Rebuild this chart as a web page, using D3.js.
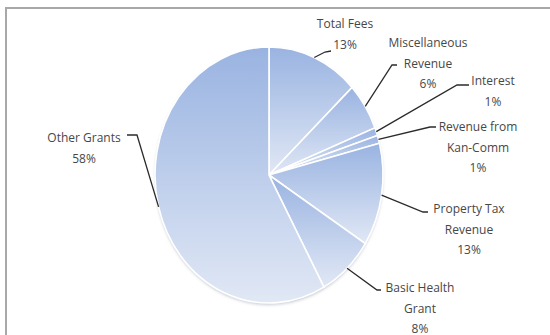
<!DOCTYPE html>
<html>
<head>
<meta charset="utf-8">
<script src="https://cdn.jsdelivr.net/npm/d3@7"></script>
<style>
  body { margin: 0; background: #fff; }
  .label { font-family: "Open Sans", sans-serif; font-size: 12px; fill: #474747; }
  .leader { fill: none; stroke: #2b2b2b; stroke-width: 1.3; }
</style>
</head>
<body>
<div id="chart"></div>
<script>
// Revenue pie

var categories = ["Total Fees", "Miscellaneous\nRevenue", "Interest", "Revenue from\nKan-Comm",
                  "Property Tax\nRevenue", "Basic Health\nGrant", "Other Grants"];
var shares = [13, 6, 1, 1, 13, 8, 58];

// label layout: text centre x, first line y, elbow point, end point of leader
var labelLayout = [
    { x: 345, y: 24, elbow: [325, 52], end: [331, 51] },
    { x: 428, y: 43, elbow: [392, 65], end: [397, 65] },
    { x: 493, y: 81, elbow: [457, 85], end: [469, 85] },
    { x: 478, y: 127, elbow: [430, 127], end: [436, 127] },
    { x: 469, y: 209, elbow: [423, 212], end: [428, 212] },
    { x: 420, y: 288, elbow: [377, 290], end: [381, 290] },
    { x: 84, y: 138, elbow: [137, 135], end: [127, 135] }
];

var width = 550,
    height = 335,
    cx = 269, cy = 175,
    rx = 114, ry = 128,
    lineH = 20.5;

var data = categories.map(function (c, i) { return { label: c, value: shares[i] }; });

var svg = d3.select('#chart').append("svg")
    .attr("width", width)
    .attr("height", height);

var defs = svg.append("defs");
var grad = defs.append("linearGradient")
    .attr("id", "sliceFill")
    .attr("x1", 0).attr("y1", 0).attr("x2", 0).attr("y2", 1);
grad.append("stop").attr("offset", "0%").attr("stop-color", "#99b3e1");
grad.append("stop").attr("offset", "100%").attr("stop-color", "#e1e8f5");

var shadow = defs.append("filter").attr("id", "shadow")
    .attr("x", "-10%").attr("y", "-10%").attr("width", "120%").attr("height", "120%");
shadow.append("feGaussianBlur").attr("stdDeviation", 1.5);

// chart area border
svg.append("rect")
    .attr("x", 6).attr("y", 8)
    .attr("width", 600).attr("height", 400)
    .attr("fill", "none")
    .attr("stroke", "#a8a8a8")
    .attr("stroke-width", 2);

var pie = d3.pie()
    .sort(null)
    .value(function (d) { return d.value; });

var arcs = pie(data);

var arc = d3.arc()
    .outerRadius(100)
    .innerRadius(0);

// soft rim under the pie
svg.append("ellipse")
    .attr("cx", cx).attr("cy", cy + 2)
    .attr("rx", rx).attr("ry", ry)
    .attr("fill", "#c9ccd2")
    .attr("filter", "url(#shadow)");

var g = svg.append("g")
    .attr("transform", "translate(" + cx + "," + cy + ") scale(" + rx / 100 + "," + ry / 100 + ")");

g.selectAll(".slice")
    .data(arcs)
    .enter().append("path")
    .attr("class", "slice")
    .attr("d", arc)
    .attr("fill", "url(#sliceFill)")
    .attr("stroke", "#ffffff")
    .attr("stroke-width", 1.6)
    .attr("vector-effect", "non-scaling-stroke");

function edgePoint(d) {
    var a = (d.startAngle + d.endAngle) / 2;
    return [cx + rx * Math.sin(a), cy - ry * Math.cos(a)];
}

svg.selectAll(".leader")
    .data(arcs)
    .enter().append("polyline")
    .attr("class", "leader")
    .attr("points", function (d, i) {
        var p = edgePoint(d), l = labelLayout[i];
        return [p, l.elbow, l.end].map(function (q) { return q.join(","); }).join(" ");
    });

var labels = svg.selectAll(".label")
    .data(arcs)
    .enter().append("text")
    .attr("class", "label")
    .attr("text-anchor", "middle");

labels.each(function (d, i) {
    var lines = d.data.label.split("\n").concat([d.data.value + "%"]);
    var t = d3.select(this);
    lines.forEach(function (s, k) {
        t.append("tspan")
            .attr("x", labelLayout[i].x)
            .attr("y", labelLayout[i].y + k * lineH)
            .attr("dy", "0.35em")
            .text(s);
    });
});
</script>
</body>
</html>
